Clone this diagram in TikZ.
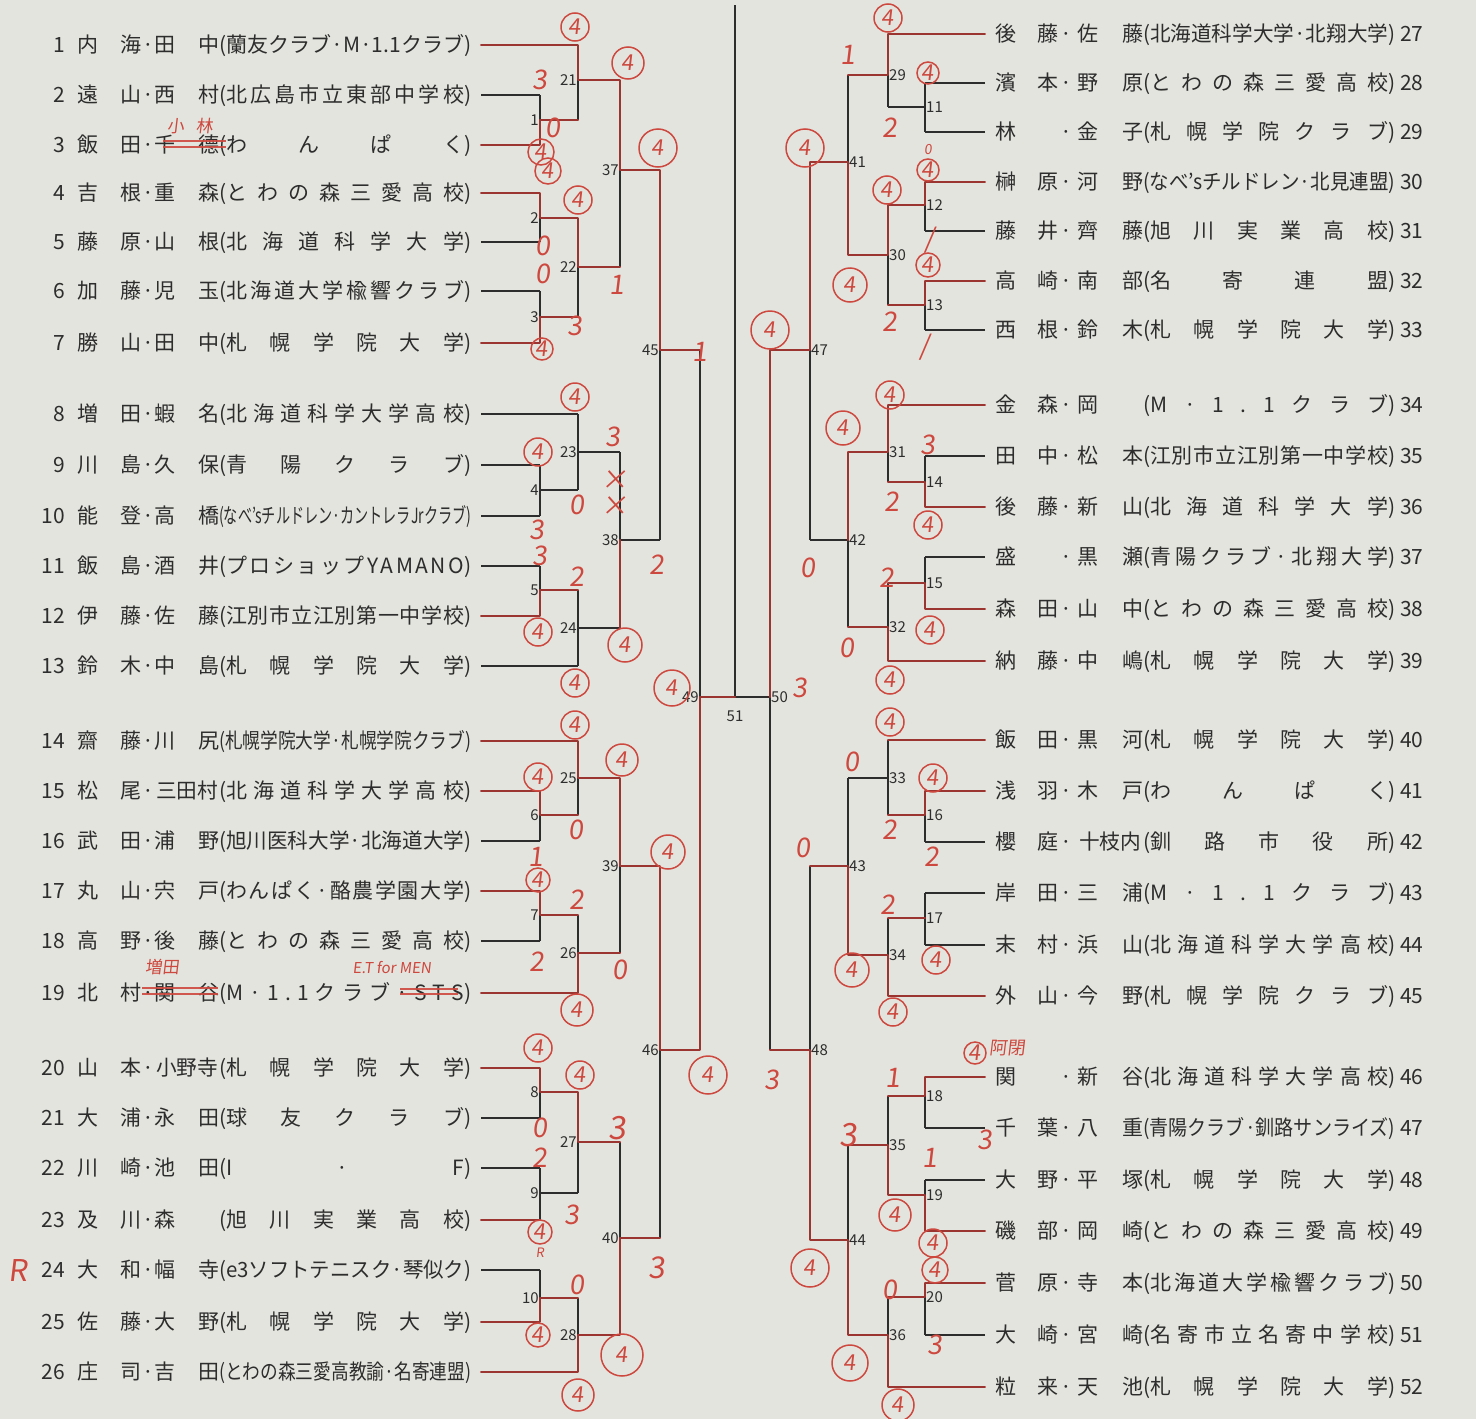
\documentclass[tikz,border=0pt]{standalone}
\usepackage{fontspec}
\usepackage{graphicx}
\setmainfont{Noto Sans CJK JP}
\newfontfamily\hand[FakeSlant=0.12]{Noto Sans CJK JP}
\definecolor{bg}{RGB}{228,228,222}
\definecolor{ink}{RGB}{45,45,45}
\definecolor{penred}{RGB}{205,72,62}
\definecolor{pathred}{RGB}{175,55,50}
\makeatletter
\def\spreadchars#1{\let\sc@first\relax\@tfor\sc@c:=#1\do{\ifx\sc@first\@empty\hfil\fi\sc@c\let\sc@first\@empty}}
\makeatother
\newsavebox\clubsb
\newlength\clubW \setlength\clubW{252pt}
\newcommand\club[1]{\sbox\clubsb{(#1)}\ifdim\wd\clubsb>\clubW\resizebox{\clubW}{\height}{\usebox\clubsb}\else\hbox to\clubW{(\spreadchars{#1})}\fi}
\tikzset{
  nm/.style={inner sep=0pt,text=ink,font=\fontsize{21}{24}\selectfont,text height=18pt,text depth=3pt},
  mlab/.style={inner sep=1pt,text=ink,font=\fontsize{15}{17}\selectfont},
  ink/.style={draw=ink,line width=1.2pt},
  redpen/.style={draw=pathred,line width=2.3pt,opacity=0.85,line join=round,line cap=round},
  redthin/.style={draw=penred,line width=1.2pt,opacity=0.9},
  circ/.style={circle,draw=penred,line width=1.5pt,inner sep=0pt,text=penred,font=\hand\fontsize{22}{24}\selectfont},
  hw/.style={inner sep=0pt,text=penred,font=\hand\fontsize{27}{29}\selectfont}
}
% entries
\newcommand\entL[7]{%
  \node[nm,anchor=east] (n#1) at (65,#2) {#1};
  \node[nm] (n#1a) at (88,#2) {#3};
  \node[nm] (n#1b) at (131,#2) {#4};
  \node[nm] (n#1d) at (148,#2) {·};
  \node[nm] (n#1c) at (165,#2) {#5};
  \node[nm] (n#1e) at (209,#2) {#6};
  \node[nm,anchor=west] (n#1f) at (219,#2) {\club{#7}};}
\newcommand\entLt[6]{%
  \node[nm,anchor=east] (n#1) at (65,#2) {#1};
  \node[nm] (n#1a) at (88,#2) {#3};
  \node[nm] (n#1b) at (131,#2) {#4};
  \node[nm] (n#1d) at (148,#2) {·};
  \node[nm] (n#1c) at (187,#2) {\resizebox{62pt}{\height}{#5}};
  \node[nm,anchor=west] (n#1f) at (219,#2) {\club{#6}};}
\newcommand\entR[7]{%
  \node[nm,anchor=west] (n#1) at (1400,#2) {#1};
  \node[nm] (n#1a) at (1006,#2) {#3};
  \node[nm] (n#1b) at (1048,#2) {#4};
  \node[nm] (n#1d) at (1066,#2) {·};
  \node[nm] (n#1c) at (1088,#2) {#5};
  \node[nm] (n#1e) at (1133,#2) {#6};
  \node[nm,anchor=west] (n#1f) at (1143,#2) {\club{#7}};}
\newcommand\entRt[6]{%
  \node[nm,anchor=west] (n#1) at (1400,#2) {#1};
  \node[nm] (n#1a) at (1006,#2) {#3};
  \node[nm] (n#1b) at (1048,#2) {#4};
  \node[nm] (n#1d) at (1066,#2) {·};
  \node[nm] (n#1c) at (1110,#2) {\resizebox{62pt}{\height}{#5}};
  \node[nm,anchor=west] (n#1f) at (1143,#2) {\club{#6}};}
% team lines
\newcommand\tmL[3]{\coordinate (t#1s) at (481,#2); \coordinate (t#1) at (#3,#2); \draw[ink] (t#1s) -- (t#1);}
\newcommand\tmR[3]{\coordinate (t#1s) at (985,#2); \coordinate (t#1) at (#3,#2); \draw[ink] (t#1s) -- (t#1);}
% matches
\newcommand\mtL[6]{\coordinate (m#1) at (#2,#3); \coordinate (m#1o) at (#4,#3);
  \draw[ink] (#5) -- (#6); \draw[ink] (m#1) -- (m#1o);
  \node[mlab,anchor=east] (l#1) at (#2,#3) {#1};}
\newcommand\mtR[6]{\coordinate (m#1) at (#2,#3); \coordinate (m#1o) at (#4,#3);
  \draw[ink] (#5) -- (#6); \draw[ink] (m#1) -- (m#1o);
  \node[mlab,anchor=west] (l#1) at (#2,#3) {#1};}
% red marks
\newcount\rn
\newcommand\rc[3][14]{\global\advance\rn by 1 \node[circ,minimum size=#1*2pt] (r\the\rn) at (#2,#3) {4};}
\newcommand\rt[3]{\global\advance\rn by 1 \node[hw] (r\the\rn) at (#1,#2) {#3};}
\begin{document}
\begin{tikzpicture}[x=1pt,y=-1pt]
\fill[bg] (0,0) rectangle (1476,1419);
\useasboundingbox (0,0) rectangle (1476,1419);
% ---------- left team lines
\tmL{1}{45}{578}\tmL{2}{95}{540}\tmL{3}{145}{540}\tmL{4}{193}{540}\tmL{5}{242}{540}\tmL{6}{291}{540}\tmL{7}{343}{540}
\tmL{8}{414}{578}\tmL{9}{465}{540}\tmL{10}{516}{540}\tmL{11}{566}{540}\tmL{12}{616}{540}\tmL{13}{666}{578}
\tmL{14}{741}{578}\tmL{15}{791}{540}\tmL{16}{841}{540}\tmL{17}{891}{540}\tmL{18}{941}{540}\tmL{19}{993}{578}
\tmL{20}{1068}{540}\tmL{21}{1118}{540}\tmL{22}{1168}{540}\tmL{23}{1220}{540}\tmL{24}{1270}{540}\tmL{25}{1322}{540}\tmL{26}{1372}{578}
% ---------- right team lines
\tmR{27}{34}{888}\tmR{28}{83}{925}\tmR{29}{132}{925}\tmR{30}{182}{925}\tmR{31}{231}{925}\tmR{32}{281}{925}\tmR{33}{330}{925}
\tmR{34}{405}{888}\tmR{35}{456}{925}\tmR{36}{507}{925}\tmR{37}{557}{925}\tmR{38}{609}{925}\tmR{39}{661}{888}
\tmR{40}{740}{888}\tmR{41}{791}{925}\tmR{42}{842}{925}\tmR{43}{893}{925}\tmR{44}{945}{925}\tmR{45}{996}{888}
\tmR{46}{1077}{925}\tmR{47}{1128}{925}\tmR{48}{1180}{925}\tmR{49}{1231}{925}\tmR{50}{1283}{925}\tmR{51}{1335}{925}\tmR{52}{1387}{888}
% ---------- left matches
\mtL{1}{540}{120}{578}{t2}{t3}
\mtL{21}{578}{80}{620}{t1}{m1o}
\mtL{2}{540}{218}{578}{t4}{t5}
\mtL{3}{540}{317}{578}{t6}{t7}
\mtL{22}{578}{267}{620}{m2o}{m3o}
\mtL{37}{620}{170}{660}{m21o}{m22o}
\mtL{4}{540}{490}{578}{t9}{t10}
\mtL{23}{578}{452}{620}{t8}{m4o}
\mtL{5}{540}{590}{578}{t11}{t12}
\mtL{24}{578}{628}{620}{m5o}{t13}
\mtL{38}{620}{540}{660}{m23o}{m24o}
\mtL{45}{660}{350}{700}{m37o}{m38o}
\mtL{6}{540}{815}{578}{t15}{t16}
\mtL{25}{578}{778}{620}{t14}{m6o}
\mtL{7}{540}{915}{578}{t17}{t18}
\mtL{26}{578}{953}{620}{m7o}{t19}
\mtL{39}{620}{866}{660}{m25o}{m26o}
\mtL{8}{540}{1092}{578}{t20}{t21}
\mtL{9}{540}{1193}{578}{t22}{t23}
\mtL{27}{578}{1142}{620}{m8o}{m9o}
\mtL{10}{540}{1298}{578}{t24}{t25}
\mtL{28}{578}{1335}{620}{m10o}{t26}
\mtL{40}{620}{1238}{660}{m27o}{m28o}
\mtL{46}{660}{1050}{700}{m39o}{m40o}
\mtL{49}{700}{697}{735}{m45o}{m46o}
% ---------- right matches
\mtR{11}{925}{107}{888}{t28}{t29}
\mtR{29}{888}{75}{848}{t27}{m11o}
\mtR{12}{925}{205}{888}{t30}{t31}
\mtR{13}{925}{305}{888}{t32}{t33}
\mtR{30}{888}{255}{848}{m12o}{m13o}
\mtR{41}{848}{162}{810}{m29o}{m30o}
\mtR{14}{925}{482}{888}{t35}{t36}
\mtR{31}{888}{452}{848}{t34}{m14o}
\mtR{15}{925}{583}{888}{t37}{t38}
\mtR{32}{888}{627}{848}{m15o}{t39}
\mtR{42}{848}{540}{810}{m31o}{m32o}
\mtR{47}{810}{350}{770}{m41o}{m42o}
\mtR{16}{925}{815}{888}{t41}{t42}
\mtR{33}{888}{778}{848}{t40}{m16o}
\mtR{17}{925}{918}{888}{t43}{t44}
\mtR{34}{888}{955}{848}{m17o}{t45}
\mtR{43}{848}{866}{810}{m33o}{m34o}
\mtR{18}{925}{1096}{888}{t46}{t47}
\mtR{19}{925}{1195}{888}{t48}{t49}
\mtR{35}{888}{1145}{848}{m18o}{m19o}
\mtR{20}{925}{1297}{888}{t50}{t51}
\mtR{36}{888}{1335}{848}{m20o}{t52}
\mtR{44}{848}{1240}{810}{m35o}{m36o}
\mtR{48}{810}{1050}{770}{m43o}{m44o}
\mtR{50}{770}{697}{735}{m47o}{m48o}
% ---------- final
\coordinate (m51) at (735,697);
\coordinate (top) at (735,5);
\draw[ink] (m49o) -- (m50o);
\draw[draw=ink,line width=1.4pt] (top) -- (m51);
\node[mlab] (l51) at (735,716) {51};
% ---------- names left
\entL{1}{45}{内}{海}{田}{中}{蘭友クラブ·M·1.1クラブ}
\entL{2}{95}{遠}{山}{西}{村}{北広島市立東部中学校}
\entL{3}{145}{飯}{田}{千}{德}{わんぱく}
\entL{4}{193}{吉}{根}{重}{森}{とわの森三愛高校}
\entL{5}{242}{藤}{原}{山}{根}{北海道科学大学}
\entL{6}{291}{加}{藤}{児}{玉}{北海道大学楡響クラブ}
\entL{7}{343}{勝}{山}{田}{中}{札幌学院大学}
\entL{8}{414}{増}{田}{蝦}{名}{北海道科学大学高校}
\entL{9}{465}{川}{島}{久}{保}{青陽クラブ}
\entL{10}{516}{能}{登}{高}{橋}{なべ'sチルドレン·カントレラJrクラブ}
\entL{11}{566}{飯}{島}{酒}{井}{プロショップYAMANO}
\entL{12}{616}{伊}{藤}{佐}{藤}{江別市立江別第一中学校}
\entL{13}{666}{鈴}{木}{中}{島}{札幌学院大学}
\entL{14}{741}{齋}{藤}{川}{尻}{札幌学院大学·札幌学院クラブ}
\entLt{15}{791}{松}{尾}{三田村}{北海道科学大学高校}
\entL{16}{841}{武}{田}{浦}{野}{旭川医科大学·北海道大学}
\entL{17}{891}{丸}{山}{宍}{戸}{わんぱく·酪農学園大学}
\entL{18}{941}{高}{野}{後}{藤}{とわの森三愛高校}
\entL{19}{993}{北}{村}{関}{谷}{M·1.1クラブ·STS}
\entLt{20}{1068}{山}{本}{小野寺}{札幌学院大学}
\entL{21}{1118}{大}{浦}{永}{田}{球友クラブ}
\entL{22}{1168}{川}{崎}{池}{田}{I·F}
\entL{23}{1220}{及}{川}{森}{}{旭川実業高校}
\entL{24}{1270}{大}{和}{幅}{寺}{e3ソフトテニスク·琴似ク}
\entL{25}{1322}{佐}{藤}{大}{野}{札幌学院大学}
\entL{26}{1372}{庄}{司}{吉}{田}{とわの森三愛高教諭·名寄連盟}
% ---------- names right
\entR{27}{34}{後}{藤}{佐}{藤}{北海道科学大学·北翔大学}
\entR{28}{83}{濱}{本}{野}{原}{とわの森三愛高校}
\entR{29}{132}{林}{}{金}{子}{札幌学院クラブ}
\entR{30}{182}{榊}{原}{河}{野}{なべ'sチルドレン·北見連盟}
\entR{31}{231}{藤}{井}{齊}{藤}{旭川実業高校}
\entR{32}{281}{高}{崎}{南}{部}{名寄連盟}
\entR{33}{330}{西}{根}{鈴}{木}{札幌学院大学}
\entR{34}{405}{金}{森}{岡}{}{M·1.1クラブ}
\entR{35}{456}{田}{中}{松}{本}{江別市立江別第一中学校}
\entR{36}{507}{後}{藤}{新}{山}{北海道科学大学}
\entR{37}{557}{盛}{}{黒}{瀬}{青陽クラブ·北翔大学}
\entR{38}{609}{森}{田}{山}{中}{とわの森三愛高校}
\entR{39}{661}{納}{藤}{中}{嶋}{札幌学院大学}
\entR{40}{740}{飯}{田}{黒}{河}{札幌学院大学}
\entR{41}{791}{浅}{羽}{木}{戸}{わんぱく}
\entRt{42}{842}{櫻}{庭}{十枝内}{釧路市役所}
\entR{43}{893}{岸}{田}{三}{浦}{M·1.1クラブ}
\entR{44}{945}{末}{村}{浜}{山}{北海道科学大学高校}
\entR{45}{996}{外}{山}{今}{野}{札幌学院クラブ}
\entR{46}{1077}{関}{}{新}{谷}{北海道科学大学高校}
\entR{47}{1128}{千}{葉}{八}{重}{青陽クラブ·釧路サンライズ}
\entR{48}{1180}{大}{野}{平}{塚}{札幌学院大学}
\entR{49}{1231}{磯}{部}{岡}{崎}{とわの森三愛高校}
\entR{50}{1283}{菅}{原}{寺}{本}{北海道大学楡響クラブ}
\entR{51}{1335}{大}{崎}{宮}{崎}{名寄市立名寄中学校}
\entR{52}{1387}{粒}{来}{天}{池}{札幌学院大学}
% ---------- red winner paths
\draw[redpen] (t1s) -- (t1) -- (m21) -- (m21o) -- (m37) -- (m37o) -- (m45) -- (m45o);
\draw[redpen] (t3s) -- (t3) -- (m1) -- (m1o);
\draw[redpen] (t4s) -- (t4) -- (m2) -- (m2o) -- (m22) -- (m22o);
\draw[redpen] (t7s) -- (t7) -- (m3) -- (m3o);
\draw[redpen] (t12s) -- (t12) -- (m5) -- (m5o);
\draw[redpen] (m24o) -- (m38);
\draw[redpen] (t14s) -- (t14) -- (m25) -- (m25o) -- (m39) -- (m39o) -- (m46) -- (m46o) -- (m49) -- (m49o);
\draw[redpen] (t15s) -- (t15) -- (m6) -- (m6o);
\draw[redpen] (t17s) -- (t17) -- (m7) -- (m7o);
\draw[redpen] (t19s) -- (t19) -- (m26) -- (m26o);
\draw[redpen] (t20s) -- (t20) -- (m8) -- (m8o) -- (m27) -- (m27o);
\draw[redpen] (t23s) -- (t23);
\draw[redpen] (t25s) -- (t25) -- (m10) -- (m10o);
\draw[redpen] (t26s) -- (t26) -- (m28) -- (m28o) -- (m40) -- (m40o);
\draw[redpen] (t27s) -- (t27) -- (m29) -- (m29o);
\draw[redpen] (t30s) -- (t30) -- (m12) -- (m12o) -- (m30) -- (m30o) -- (m41) -- (m41o) -- (m47) -- (m47o) -- (m50);
\draw[redpen] (t32s) -- (t32) -- (m13) -- (m13o);
\draw[redpen] (t34s) -- (t34) -- (m31) -- (m31o) -- (m42);
\draw[redpen] (t36s) -- (t36) -- (m14) -- (m14o);
\draw[redpen] (t38s) -- (t38) -- (m15) -- (m15o);
\draw[redpen] (t39s) -- (t39) -- (m32) -- (m32o);
\draw[redpen] (t40s) -- (t40);
\draw[redpen] (t41s) -- (t41) -- (m16) -- (m16o);
\draw[redpen] (m17) -- (m17o);
\draw[redpen] (t45s) -- (t45) -- (m34) -- (m34o) -- (m43) -- (m43o);
\draw[redpen] (t46s) -- (t46) -- (m18) -- (m18o);
\draw[redpen] (t49s) -- (t49) -- (m19) -- (m19o) -- (m35) -- (m35o);
\draw[redpen] (t50s) -- (t50) -- (m20) -- (m20o);
\draw[redpen] (t52s) -- (t52) -- (m36) -- (m36o) -- (m44) -- (m44o) -- (m48) -- (m48o);
% ---------- red scores left
\rc{575}{27}\rc[16]{628}{63}\rt{540}{80}{3}\rt{553}{128}{0}
\rc[13]{541}{152}\rc[13]{548}{171}
\rc[19]{658}{148}\rc{578}{200}\rt{543}{246}{0}\rt{543}{274}{0}
\rt{617}{285}{1}\rt{575}{326}{3}\rc[11]{542}{349}\rt{700}{352}{1}
\rc{575}{397}\rt{613}{437}{3}\rc{538}{452}\rt{615}{480}{×}\rt{615}{506}{×}
\rt{577}{505}{0}\rt{537}{530}{3}\rt{540}{556}{3}\rt{577}{577}{2}
\rc{538}{632}\rc[17]{625}{645}\rt{657}{565}{2}\rc{575}{683}\rc[18]{672}{688}
\rc{575}{725}\rc[16]{622}{760}\rc{538}{777}\rt{576}{830}{0}\rt{536}{857}{1}
\rc[17]{668}{852}\rc[12]{538}{880}\rt{577}{900}{2}\rt{537}{962}{2}
\rt{620}{970}{0}\rc[16]{577}{1010}
\rc{538}{1048}\rc[19]{708}{1075}\rc{580}{1075}\rt{540}{1128}{0}
\node[hw,font=\hand\fontsize{32}{34}\selectfont] (s27) at (617,1128) {3};
\rt{540}{1158}{2}\rt{572}{1215}{3}\rc[12]{540}{1232}
\node[hw,font=\hand\fontsize{13}{14}\selectfont] (rR1) at (540,1253) {R};
\node[hw,font=\hand\fontsize{30}{32}\selectfont] (s40) at (657,1268) {3};
\rt{577}{1285}{0}\rc[12]{538}{1335}\rc[21]{622}{1355}\rc[16]{578}{1395}
\node[hw,font=\hand\fontsize{30}{32}\selectfont] (rR2) at (18,1270) {R};
\rt{800}{688}{3}
% ---------- red scores right
\rc{888}{18}\rt{848}{55}{1}\rc[11]{928}{73}\rt{890}{128}{2}
\rc[19]{805}{148}\node[hw,font=\hand\fontsize{14}{15}\selectfont] (rz1) at (928,150) {0};\rc[11]{928}{170}
\rc{887}{190}\rt{930}{240}{/}\rc[17]{850}{285}\rc[12]{928}{265}\rt{890}{322}{2}\rt{925}{347}{/}
\rc[19]{770}{330}
\rc{890}{395}\rc[17]{843}{428}\rt{928}{445}{3}\rt{892}{502}{2}\rc{928}{525}
\rt{808}{568}{0}\rt{887}{578}{2}\rc{930}{630}\rt{847}{648}{0}\rc{890}{680}
\rc{890}{722}\rt{852}{762}{0}\rc{933}{778}\rt{803}{848}{0}\rt{890}{830}{2}\rt{932}{857}{2}
\rt{888}{905}{2}\rc[17]{852}{970}\rc{936}{960}\rc{893}{1012}
\rt{772}{1080}{3}\rc[11]{975}{1053}
\node[hw,font=\hand\fontsize{18}{20}\selectfont] (rname2) at (1007,1048) {阿閉};
\rt{893}{1078}{1}\rt{985}{1140}{3}
\node[hw,font=\hand\fontsize{32}{34}\selectfont] (s35) at (848,1135) {3};
\rt{930}{1158}{1}\rc[16]{895}{1215}\rc[14]{933}{1243}\rc[19]{810}{1268}
\rc[13]{935}{1270}\rt{890}{1290}{0}\rt{935}{1345}{3}\rc[18]{850}{1363}\rc[16]{898}{1405}
% ---------- handwritten notes
\node[hw,font=\hand\fontsize{17}{19}\selectfont] (rname1) at (190,126) {小\hspace{12pt}林};
\draw[redthin] (163,141) -- (226,141);
\draw[redthin] (163,147) -- (226,147);
\node[hw,font=\hand\fontsize{17}{19}\selectfont] (rname3) at (162,967) {増田};
\draw[redthin] (142,988) -- (218,988);
\draw[redthin] (142,994) -- (218,994);
\node[hw,font=\hand\fontsize{15}{17}\selectfont] (rname4) at (392,968) {E.T for MEN};
\draw[redthin] (400,989) -- (458,989);
\draw[redthin] (400,994) -- (458,994);
\end{tikzpicture}
\end{document}
